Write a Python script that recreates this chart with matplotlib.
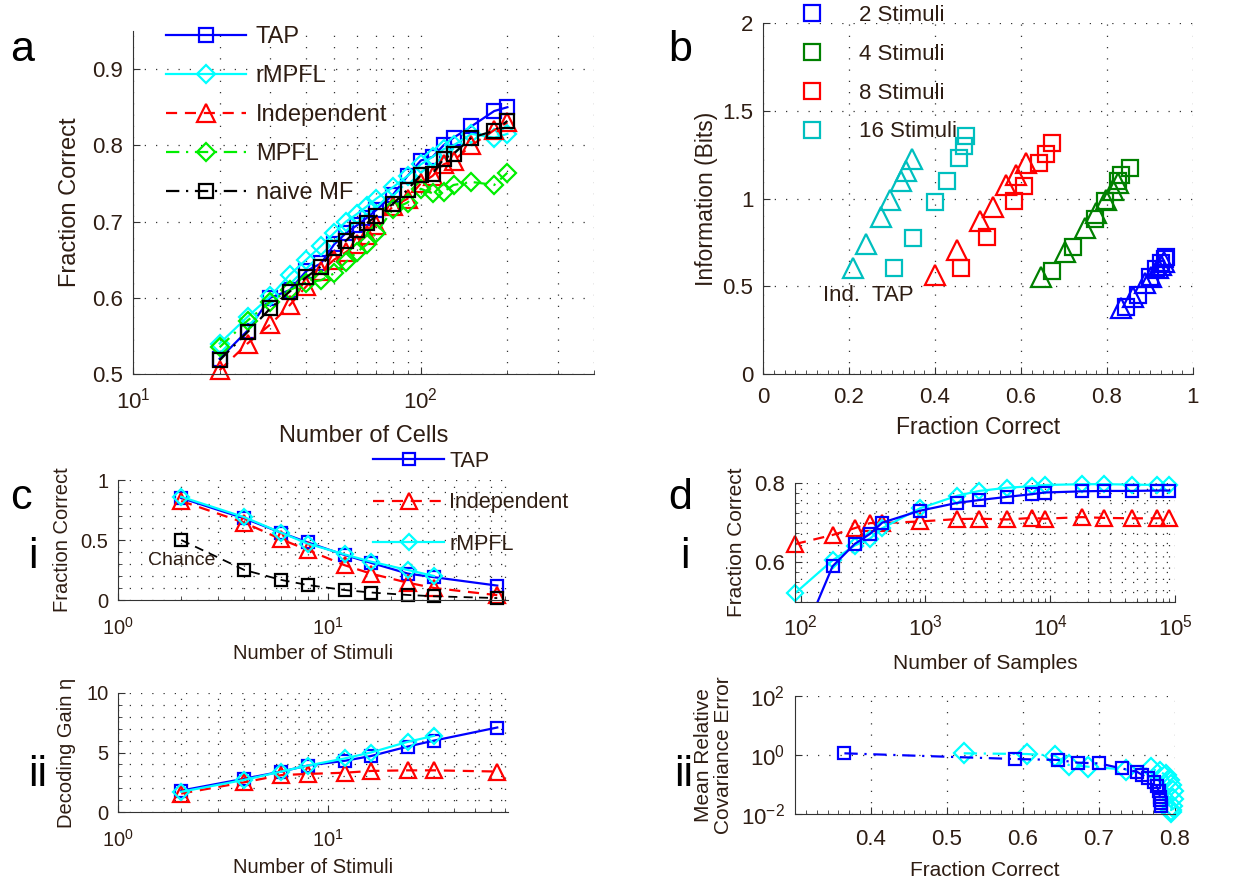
import numpy as np
import matplotlib.pyplot as plt
from matplotlib.ticker import FixedLocator, MultipleLocator, NullFormatter, NullLocator, AutoMinorLocator

plt.rcParams['font.family'] = ['Liberation Sans', 'DejaVu Sans']
plt.rcParams['mathtext.default'] = 'regular'
plt.rcParams['font.size'] = 14

ink = '#2e1d13'

# panel a: fraction correct vs number of cells
cells = [20, 25, 30, 35, 40, 45, 50, 55, 60, 65, 70, 80, 90, 100, 110, 120, 130, 150, 180, 200]
a_tap = [0.52, 0.557, 0.60, 0.61, 0.635, 0.645, 0.67, 0.685, 0.695, 0.705, 0.715, 0.735, 0.76, 0.78, 0.785, 0.80, 0.81, 0.825, 0.845, 0.85]
a_rmpfl = [0.54, 0.575, 0.602, 0.63, 0.65, 0.668, 0.685, 0.70, 0.71, 0.72, 0.73, 0.745, 0.76, 0.775, 0.785, 0.795, 0.80, 0.815, 0.81, 0.815]
a_ind = [0.505, 0.54, 0.565, 0.59, 0.615, 0.635, 0.65, 0.66, 0.67, 0.682, 0.695, 0.72, 0.73, 0.75, 0.76, 0.775, 0.78, 0.80, 0.82, 0.83]
a_mpfl = [0.535, 0.57, 0.595, 0.61, 0.62, 0.623, 0.632, 0.647, 0.66, 0.67, 0.685, 0.716, 0.725, 0.743, 0.737, 0.739, 0.748, 0.752, 0.748, 0.764]
a_naive = [0.518, 0.555, 0.586, 0.608, 0.627, 0.641, 0.665, 0.675, 0.689, 0.698, 0.707, 0.723, 0.742, 0.761, 0.763, 0.782, 0.789, 0.81, 0.819, 0.832]

# panel b: information vs fraction correct (Ind. = triangles, TAP = squares)
b_labels = ['2 Stimuli', '4 Stimuli', '8 Stimuli', '16 Stimuli']
b2_ind_fc = [0.833, 0.860, 0.888, 0.903, 0.919, 0.926, 0.932]
b2_ind_bits = [0.375, 0.441, 0.517, 0.555, 0.603, 0.622, 0.641]
b2_tap_fc = [0.845, 0.872, 0.899, 0.915, 0.926, 0.934, 0.938]
b2_tap_bits = [0.384, 0.451, 0.555, 0.597, 0.631, 0.654, 0.669]
b4_ind_fc = [0.647, 0.703, 0.748, 0.775, 0.798, 0.814, 0.826]
b4_ind_bits = [0.555, 0.698, 0.831, 0.916, 0.992, 1.049, 1.087]
b4_tap_fc = [0.672, 0.721, 0.771, 0.795, 0.826, 0.833, 0.853]
b4_tap_bits = [0.587, 0.722, 0.884, 0.983, 1.097, 1.135, 1.173]
b8_ind_fc = [0.40, 0.45, 0.504, 0.535, 0.566, 0.589, 0.612]
b8_ind_bits = [0.565, 0.707, 0.869, 0.954, 1.078, 1.135, 1.20]
b8_tap_fc = [0.461, 0.521, 0.584, 0.606, 0.643, 0.657, 0.672]
b8_tap_bits = [0.603, 0.779, 0.983, 1.074, 1.20, 1.255, 1.316]
b16_ind_fc = [0.209, 0.240, 0.275, 0.295, 0.320, 0.333, 0.347]
b16_ind_bits = [0.603, 0.74, 0.897, 0.992, 1.097, 1.154, 1.224]
b16_tap_fc = [0.305, 0.349, 0.400, 0.428, 0.455, 0.468, 0.473]
b16_tap_bits = [0.606, 0.774, 0.979, 1.097, 1.23, 1.30, 1.357]

# panel c: vs number of stimuli
stimuli = [2, 4, 6, 8, 12, 16, 24, 32, 64]
c_tap_fc = [0.85, 0.68, 0.56, 0.48, 0.375, 0.31, 0.22, 0.19, 0.12]
c_ind_fc = [0.825, 0.644, 0.505, 0.417, 0.29, 0.22, 0.144, 0.10, 0.04]
c_rmpfl_fc = [0.86, 0.69, 0.56, 0.47, 0.38, 0.32, 0.25, 0.20]
c_chance = [0.5, 0.25, 0.167, 0.125, 0.083, 0.0625, 0.042, 0.031, 0.016]
c_tap_gain = [1.8, 2.8, 3.4, 3.9, 4.3, 4.7, 5.5, 6.0, 7.1]
c_ind_gain = [1.55, 2.5, 3.1, 3.2, 3.3, 3.45, 3.5, 3.5, 3.4]
c_rmpfl_gain = [1.7, 2.7, 3.4, 3.9, 4.5, 5.0, 5.9, 6.4]

# panel d: vs number of samples
samples = [90, 180, 270, 360, 450, 900, 1800, 2700, 4500, 7200, 9000, 18000, 27000, 45000, 72000, 90000]
d_tap_fc = [0.365, 0.59, 0.646, 0.672, 0.70, 0.73, 0.75, 0.757, 0.765, 0.772, 0.776, 0.779, 0.78, 0.78, 0.781, 0.781]
d_rmpfl_fc = [0.522, 0.605, 0.642, 0.66, 0.686, 0.736, 0.768, 0.78, 0.788, 0.792, 0.795, 0.797, 0.797, 0.796, 0.795, 0.795]
d_ind_fc = [0.646, 0.669, 0.686, 0.699, 0.699, 0.703, 0.709, 0.71, 0.708, 0.712, 0.71, 0.714, 0.712, 0.711, 0.711, 0.713]
d_tap_err = [1.14, 0.73, 0.68, 0.55, 0.52, 0.35, 0.27, 0.21, 0.16, 0.12, 0.086, 0.058, 0.039, 0.030, 0.023, 0.018]
d_rmpfl_err = [1.14, 1.08, 0.95, 0.46, 0.40, 0.32, 0.35, 0.27, 0.21, 0.14, 0.10, 0.058, 0.032, 0.018, 0.014, 0.012]

DASH = (5, 3.5)
DASHDOT = (6, 3, 1, 3)
dot_grid = dict(color='#333333', linestyle=(0, (1, 8)), linewidth=0.9)


def matlab_axes(ax, size, xpad=7):
    ax.spines['top'].set_visible(False)
    ax.spines['right'].set_visible(False)
    for s in ['left', 'bottom']:
        ax.spines[s].set_color('#333333')
    ax.tick_params(which='both', direction='in', labelcolor=ink, labelsize=size, pad=7, color='#333333')
    ax.tick_params(axis='x', which='both', pad=xpad)
    ax.tick_params(which='major', length=5)
    ax.tick_params(which='minor', length=3)
    ax.grid(True, which='major', **dot_grid)
    ax.set_axisbelow(True)


def curve(ax, x, y, color, marker, ms, dashes=None, lw=1.6, clip_y=None):
    x = np.asarray(x, float)
    y = np.asarray(y, float)
    if clip_y is None:
        line, = ax.plot(x, y, color=color, lw=lw, marker=marker, ms=ms, mfc='none', mew=1.6, clip_on=False)
    else:
        # line clipped by the axes, markers inside the limits drawn in full
        line, = ax.plot(x, y, color=color, lw=lw)
        m = (y >= clip_y[0]) & (y <= clip_y[1])
        ax.plot(x[m], y[m], ls='none', marker=marker, ms=ms, mfc='none', mew=1.6, color=color, clip_on=False)
    if dashes is not None:
        line.set_dashes(dashes)
    return line


fig = plt.figure(figsize=(12.6, 8.84), dpi=100)
W, H = 1260.0, 884.0


def px_axes(l, t, r, b):
    return fig.add_axes([l / W, 1 - b / H, (r - l) / W, (b - t) / H])


# ---------------- panel a
ax = px_axes(133, 31, 594, 374)
matlab_axes(ax, 16, xpad=10)
ax.set_xscale('log')
h_tap = curve(ax, cells, a_tap, '#0000ff', 's', 9.5)
h_rmp = curve(ax, cells, a_rmpfl, '#00ffff', 'D', 9)
h_ind = curve(ax, cells, a_ind, '#ff0000', '^', 13, dashes=DASH)
h_mpf = curve(ax, cells, a_mpfl, '#00ee00', 'D', 9, dashes=DASHDOT)
h_nai = curve(ax, cells, a_naive, '#000000', 's', 9.5, dashes=DASHDOT)
ax.set_xlim(10, 400)
ax.set_ylim(0.5, 0.95)
ax.set_yticks([0.5, 0.6, 0.7, 0.8, 0.9])
ax.xaxis.set_minor_formatter(NullFormatter())
ax.grid(True, which='minor', axis='x', **dot_grid)
ax.set_xlabel('Number of Cells', color=ink, fontsize=17, labelpad=8)
ax.set_ylabel('Fraction Correct', color=ink, fontsize=17, labelpad=8)
fig.legend([h_tap, h_rmp, h_ind, h_mpf, h_nai], ['TAP', 'rMPFL', 'Independent', 'MPFL', 'naive MF'],
           loc='upper left', bbox_to_anchor=(166 / W, 1 - 26 / H), frameon=False, fontsize=17,
           handlelength=3.4, handletextpad=0.4, labelspacing=0.72, borderpad=0, borderaxespad=0,
           numpoints=1, labelcolor=ink)

# ---------------- panel b
ax = px_axes(763, 23, 1193, 374)
matlab_axes(ax, 16, xpad=9)
b_sets = [
    (b2_ind_fc, b2_ind_bits, b2_tap_fc, b2_tap_bits, '#0000ff'),
    (b4_ind_fc, b4_ind_bits, b4_tap_fc, b4_tap_bits, '#008000'),
    (b8_ind_fc, b8_ind_bits, b8_tap_fc, b8_tap_bits, '#ff0000'),
    (b16_ind_fc, b16_ind_bits, b16_tap_fc, b16_tap_bits, '#00bfbf'),
]
b_handles = []
for ind_x, ind_y, tap_x, tap_y, col in b_sets:
    ax.plot(ind_x, ind_y, ls='none', marker='^', ms=15, mfc='none', mec=col, mew=1.6, clip_on=False)
    h, = ax.plot(tap_x, tap_y, ls='none', marker='s', ms=12, mfc='none', mec=col, mew=1.6, clip_on=False)
    b_handles.append(h)
ax.set_xlim(0, 1)
ax.set_ylim(0, 2)
ax.set_xticks([0, 0.2, 0.4, 0.6, 0.8, 1])
ax.set_xticklabels(['0', '0.2', '0.4', '0.6', '0.8', '1'])
ax.set_yticks([0, 0.5, 1, 1.5, 2])
ax.set_yticklabels(['0', '0.5', '1', '1.5', '2'])
ax.xaxis.set_minor_locator(AutoMinorLocator(8))
ax.text(0.14, 0.45, 'Ind.  TAP', color=ink, fontsize=16, va='center', ha='left')
ax.set_xlabel('Fraction Correct', color=ink, fontsize=16.5, labelpad=6)
ax.set_ylabel('Information (Bits)', color=ink, fontsize=16.5, labelpad=3)
fig.legend(b_handles, b_labels, loc='upper left', bbox_to_anchor=(790 / W, 1 - 5 / H), frameon=False,
           fontsize=16, handlelength=2.0, handletextpad=1.1, labelspacing=0.8, borderpad=0,
           borderaxespad=0, labelcolor=ink)

# ---------------- panel c-i
ax = px_axes(118, 480, 508, 600)
matlab_axes(ax, 14.5, xpad=12)
ax.set_xscale('log')
c_tap = curve(ax, stimuli, c_tap_fc, '#0000ff', 's', 8)
c_ind = curve(ax, stimuli, c_ind_fc, '#ff0000', '^', 12, dashes=DASH)
c_rmp = curve(ax, stimuli[:len(c_rmpfl_fc)], c_rmpfl_fc, '#00ffff', 'D', 8)
curve(ax, stimuli, c_chance, '#000000', 's', 8, dashes=DASH, lw=1.3)
ax.set_xlim(1, 72)
ax.set_ylim(0, 1)
ax.set_yticks([0, 0.5, 1])
ax.set_yticklabels(['0', '0.5', '1'])
ax.yaxis.set_minor_locator(MultipleLocator(0.1))
ax.xaxis.set_minor_formatter(NullFormatter())
ax.grid(True, which='minor', **dot_grid)
ax.text(2, 0.33, 'Chance', color=ink, fontsize=14, ha='center', va='center')
ax.set_xlabel('Number of Stimuli', color=ink, fontsize=14.5, labelpad=4)
ax.set_ylabel('Fraction Correct', color=ink, fontsize=14.5, labelpad=6)
fig.legend([c_tap, c_ind, c_rmp], ['TAP', 'Independent', 'rMPFL'], loc='upper left',
           bbox_to_anchor=(373 / W, 1 - 451 / H), frameon=False, fontsize=15.5, handlelength=3.3,
           handletextpad=0.25, labelspacing=0.95, borderpad=0, borderaxespad=0, numpoints=1,
           labelcolor=ink)

# ---------------- panel c-ii
ax = px_axes(118, 693, 508, 812)
matlab_axes(ax, 14.5, xpad=12)
ax.set_xscale('log')
curve(ax, stimuli, c_tap_gain, '#0000ff', 's', 8)
curve(ax, stimuli, c_ind_gain, '#ff0000', '^', 12, dashes=DASH)
curve(ax, stimuli[:len(c_rmpfl_gain)], c_rmpfl_gain, '#00ffff', 'D', 8)
ax.set_xlim(1, 72)
ax.set_ylim(0, 10)
ax.set_yticks([0, 5, 10])
ax.yaxis.set_minor_locator(MultipleLocator(1))
ax.xaxis.set_minor_formatter(NullFormatter())
ax.grid(True, which='minor', **dot_grid)
ax.set_xlabel('Number of Stimuli', color=ink, fontsize=14.5, labelpad=5)
ax.set_ylabel('Decoding Gain η', color=ink, fontsize=14.5, labelpad=7)

# ---------------- panel d-i
ax = px_axes(795, 483, 1175, 602)
matlab_axes(ax, 16, xpad=9)
ax.set_xscale('log')
curve(ax, samples, d_ind_fc, '#ff0000', '^', 12, dashes=DASH, clip_y=(0.5, 0.8))
curve(ax, samples, d_rmpfl_fc, '#00ffff', 'D', 8, clip_y=(0.5, 0.8))
curve(ax, samples, d_tap_fc, '#0000ff', 's', 9, clip_y=(0.5, 0.8))
ax.set_xlim(90, 1e5)
ax.set_ylim(0.5, 0.8)
ax.set_yticks([0.6, 0.8])
ax.yaxis.set_minor_locator(MultipleLocator(0.025))
ax.xaxis.set_minor_formatter(NullFormatter())
ax.grid(True, which='minor', **dot_grid)
ax.set_xlabel('Number of Samples', color=ink, fontsize=15, labelpad=10)
ax.set_ylabel('Fraction Correct', color=ink, fontsize=15, labelpad=6)

# ---------------- panel d-ii
ax = px_axes(795, 696, 1175, 814)
matlab_axes(ax, 16, xpad=11)
ax.set_yscale('log')
curve(ax, d_rmpfl_fc, d_rmpfl_err, '#00ffff', 'D', 10, dashes=DASHDOT)
curve(ax, d_tap_fc, d_tap_err, '#0000ff', 's', 8, dashes=DASHDOT)
ax.set_xlim(0.3, 0.8)
ax.set_ylim(1e-2, 1e2)
ax.set_xticks([0.4, 0.5, 0.6, 0.7, 0.8])
ax.xaxis.set_minor_locator(AutoMinorLocator(7))
ax.yaxis.set_major_locator(FixedLocator([1e-2, 1, 1e2]))
ax.yaxis.set_minor_locator(NullLocator())
ax.set_xlabel('Fraction Correct', color=ink, fontsize=15, labelpad=8)
ax.set_ylabel('Mean Relative\nCovariance Error', color=ink, fontsize=15, labelpad=6, linespacing=1.1)

# panel letters
for txt, x, y in [('a', 10, 50), ('b', 668, 50), ('c', 10, 498), ('d', 668, 498)]:
    fig.text(x / W, 1 - y / H, txt, fontsize=31, ha='left', va='center', color='black')
for txt, x, y in [('i', 28, 557), ('ii', 28, 775), ('i', 680, 557), ('ii', 674, 775)]:
    fig.text(x / W, 1 - y / H, txt, fontsize=31, ha='left', va='center', color='black')

fig.savefig('out.png', dpi=100, facecolor='white')
